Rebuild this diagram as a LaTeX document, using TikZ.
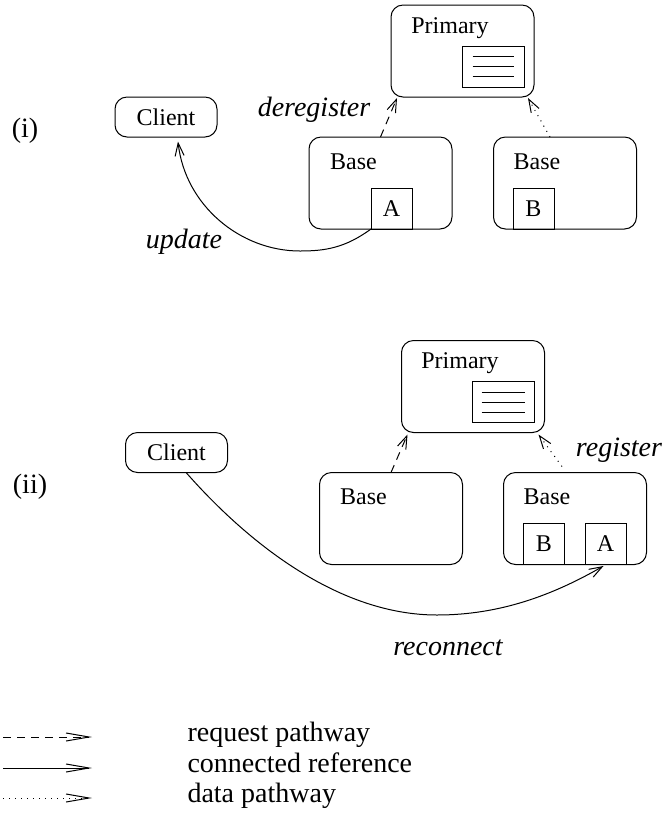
\documentclass[tikz,border=0pt]{standalone}
\usepackage{fontspec}
\setmainfont{Liberation Serif}[ItalicFont={Liberation Serif Italic},BoldFont={Liberation Serif Bold}]
\usepackage{tikz}
\usetikzlibrary{arrows.meta,calc}

\begin{document}
\begin{tikzpicture}[x=0.5pt,y=-0.5pt,>={Straight Barb[length=6.5pt,width=4.5pt]},line width=0.5pt,
  box node/.style={draw,rounded corners=6pt,minimum width=71.5pt,minimum height=46pt,inner sep=0pt,outer sep=0pt},
  client node/.style={draw,rounded corners=6pt,minimum width=51pt,minimum height=20pt,inner sep=0pt,font=\fontsize{12}{14}\selectfont},
  item node/.style={draw,minimum size=20.5pt,inner sep=0pt,outer sep=0pt,font=\fontsize{12}{14}\selectfont},
  doc node/.style={draw,minimum width=31pt,minimum height=20.5pt,inner sep=0pt},
  title node/.style={inner sep=0pt,font=\fontsize{12}{14}\selectfont},
  tag node/.style={inner sep=0pt,font=\fontsize{14}{16}\selectfont},
  act node/.style={inner sep=0pt,font=\fontsize{14}{16}\selectfont\itshape},
  req line/.style={->,dash pattern=on 4pt off 3pt},
  data line/.style={->,dash pattern=on 0.5pt off 2.5pt},
  conn line/.style={->},
  legend tip/.style={>={Straight Barb[length=11.5pt,width=4pt]}}]
  \useasboundingbox (0,0) rectangle (663,816);

  % (i) before the move
  \node[tag node] (t1) at (25,131) {(i)};
  \node[box node] (p1) at (462.5,51) {};
  \node[title node] (p1t) at ($(p1)+(-12.5,-23)$) {Primary};
  \node[doc node] (d1) at (493,66.5) {};
  \foreach \dy in {-10,0,10}
    \draw ($(d1.west)+(11,\dy)$) -- ($(d1.east)+(-11,\dy)$);
  \node[box node] (b1) at (380.5,183) {};
  \node[title node] (b1t) at ($(b1)+(-27,-21)$) {Base};
  \node[item node] (a1) at (391.5,208.5) {A};
  \node[box node] (b2) at (565,183) {};
  \node[title node] (b2t) at ($(b2)+(-28,-21)$) {Base};
  \node[item node] (e1) at (533.5,208.5) {B};
  \node[client node] (c1) at (166,117) {Client};
  \node[act node] (dr) at (314,110) {deregister};
  \node[act node] (up) at (184,242) {update};

  \draw[req line] (b1.north) -- ($(p1.south west)+(6,1)$);
  \draw[data line] ($(b2.north)+(-15,0)$) -- ($(p1.south east)+(-6,1)$);
  \draw[conn line] (a1.south west) .. controls (345,248) and (325,251) .. (300,251)
    .. controls (240,251) and (185,205) .. ($(c1.south)+(12,4)$);

  % (ii) after the move
  \node[tag node] (t2) at (30,487) {(ii)};
  \node[box node] (p2) at (473,386.5) {};
  \node[title node] (p2t) at ($(p2)+(-13,-23.5)$) {Primary};
  \node[doc node] (d2) at (503,402) {};
  \foreach \dy in {-10,0,10}
    \draw ($(d2.west)+(10,\dy)$) -- ($(d2.east)+(-10,\dy)$);
  \node[box node] (b3) at (391,518.5) {};
  \node[title node] (b3t) at ($(b3)+(-27.5,-21.5)$) {Base};
  \node[box node] (b4) at (575,518.5) {};
  \node[title node] (b4t) at ($(b4)+(-28,-21.5)$) {Base};
  \node[item node] (e2) at (544,543.5) {B};
  \node[item node] (a2) at (605.5,543.5) {A};
  \node[client node] (c2) at (176.5,452.5) {Client};
  \node[act node] (rg) at (619,450) {register};
  \node[act node] (rc) at (448,648) {reconnect};

  \draw[req line] (b3.north) -- ($(p2.south west)+(6,2)$);
  \draw[data line] ($(b4.north)+(-13,-6)$) -- ($(p2.south east)+(-6,2)$);
  \draw[conn line] ($(c2.south)+(10,0)$) .. controls (250,545) and (340,615) .. (437,615)
    .. controls (500,615) and (553,595) .. ($(a2.south)+(-2,2)$);

  % legend
  \coordinate (l1a) at (3,737);
  \coordinate (l1b) at (92,737);
  \coordinate (l2a) at (3,768);
  \coordinate (l2b) at (92,768);
  \coordinate (l3a) at (3,798);
  \coordinate (l3b) at (92,798);
  \draw[req line,legend tip] (l1a) -- (l1b);
  \draw[conn line,legend tip] (l2a) -- (l2b);
  \draw[data line,legend tip] (l3a) -- (l3b);
  \node[tag node,anchor=mid west] (k1) at (187,737) {request pathway};
  \node[tag node,anchor=mid west] (k2) at (187,768) {connected reference};
  \node[tag node,anchor=mid west] (k3) at (187,798) {data pathway};
\end{tikzpicture}
\end{document}
